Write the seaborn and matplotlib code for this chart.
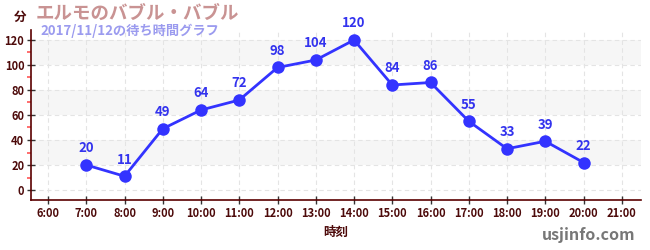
import matplotlib
matplotlib.use("Agg")
import matplotlib.pyplot as plt
import seaborn as sns
import pandas as pd
from matplotlib.ticker import MultipleLocator

hours = [7, 8, 9, 10, 11, 12, 13, 14, 15, 16, 17, 18, 19, 20]
waits = [20, 11, 49, 64, 72, 98, 104, 120, 84, 86, 55, 33, 39, 22]
xticks = list(range(6, 22))
xticklabels = [f"{h}:00" for h in xticks]
title = "エルモのバブル・バブル"
subtitle = "2017/11/12の待ち時間グラフ"

sns.set_theme(style="white")
plt.rcParams['font.family'] = ['Noto Sans CJK JP', 'DejaVu Sans']

df = pd.DataFrame({"hour": hours, "wait": waits})
fig = plt.figure(figsize=(6.5, 2.5), dpi=100)
ax = fig.add_axes([0.048, 0.2, 0.938, 0.68])

for lo in (20, 60, 100):
    ax.axhspan(lo, lo + 20, color="#f6f6f6", zorder=0, lw=0)

sns.lineplot(data=df, x="hour", y="wait", ax=ax, color="#3333ff", lw=2,
             marker="o", markersize=9, markeredgewidth=0, zorder=3)
for h, w in zip(hours, waits):
    ax.annotate(str(w), (h, w), xytext=(0, 7), textcoords="offset points",
                ha="center", va="bottom", color="#3333ee", fontsize=9.5,
                fontweight="bold")

ax.set_xlim(5.56, 21.5)
ax.set_ylim(-8, 128)
ax.set_xticks(xticks)
ax.set_xticklabels(xticklabels)
ax.set_yticks(range(0, 121, 20))
ax.yaxis.set_minor_locator(MultipleLocator(10))
ax.grid(True, which="major", color="#e4e4e4", ls=(0, (4, 3)), lw=0.8)
ax.set_axisbelow(True)

dark = "#4d0a0a"
for s in ("top", "right"):
    ax.spines[s].set_visible(False)
for s in ("left", "bottom"):
    ax.spines[s].set_color("#5a0000")
    ax.spines[s].set_linewidth(1.2)
ax.tick_params(axis="both", which="major", direction="inout", length=6,
               width=1, color="#333333", labelsize=8, labelcolor=dark, pad=2)
ax.tick_params(axis="y", which="minor", direction="out", length=3,
               width=1.2, color="#ff5555", left=True)
ax.tick_params(axis="x", which="major", bottom=True)
ax.tick_params(axis="y", which="major", left=True)
for lab in ax.get_xticklabels() + ax.get_yticklabels():
    lab.set_fontweight("bold")

ax.set_xlabel("時刻", fontsize=9, fontweight="bold", color=dark, labelpad=4)
ax.set_ylabel("")
fig.text(0.031, 0.93, "分", fontsize=9, fontweight="bold", color=dark,
         ha="center", va="center")
fig.text(0.055, 0.945, title, fontsize=13.3, fontweight="bold",
         color="#c99393", ha="left", va="center")
fig.text(0.062, 0.875, subtitle, fontsize=9.5, fontweight="bold",
         color="#9b9bef", ha="left", va="center")
fig.text(0.977, 0.06, "usjinfo.com", fontsize=11.5, fontweight="bold",
         color="#777777", ha="right", va="center",
         family=["Noto Sans CJK JP", "DejaVu Sans"])

fig.savefig("out.png", dpi=100)
